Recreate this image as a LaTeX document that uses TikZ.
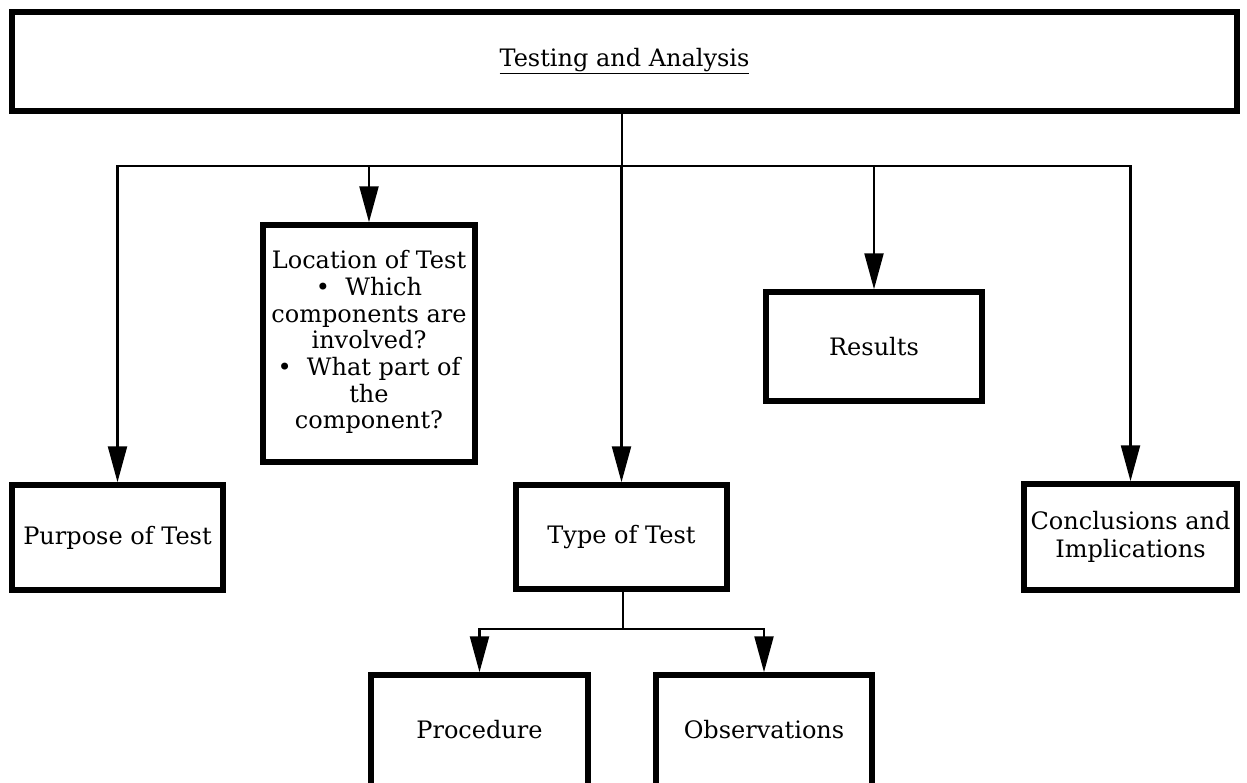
\documentclass[tikz,border=0pt]{standalone}
\usepackage{fontspec}
\setmainfont{DejaVu Serif}
\usetikzlibrary{arrows.meta}
\begin{document}
\begin{tikzpicture}[x=1pt,y=-1pt,
  box/.style={draw, line width=5.5pt, inner sep=0pt, align=center,
    font=\fontsize{24}{26.7}\selectfont},
  link/.style={line width=2.3pt},
  feed/.style={link, -{Triangle[length=36pt,width=19pt]}}]
\useasboundingbox (0,0) rectangle (1247,782);

% boxes
\node[box, minimum width=1225pt, minimum height=99pt] (top) at (624.5,61.5)
  {\underline{Testing and Analysis}};
\node[box, minimum width=211pt, minimum height=105pt] (purpose) at (117.5,537.5)
  {Purpose of Test};
\node[box, minimum width=212pt, minimum height=237pt] (location) at (369,343.5)
  {\raisebox{4pt}{\begin{tabular}{@{}c@{}}Location of Test\\ •\ \ Which\\ components are\\ involved?\\ •\ \ What part of\\ the\\ component?\end{tabular}}};
\node[box, minimum width=211pt, minimum height=104pt] (type) at (621.5,537)
  {Type of Test};
\node[box, minimum width=216pt, minimum height=109pt] (results) at (874,346.5)
  {Results};
\node[box, minimum width=213pt, minimum height=106pt] (concl) at (1130.5,537)
  {Conclusions and\\[1pt] Implications};
\node[box, minimum width=217pt, minimum height=114pt] (proc) at (479.5,732)
  {\raisebox{5pt}{Procedure}};
\node[box, minimum width=216pt, minimum height=114pt] (obs) at (764,732)
  {\raisebox{5pt}{Observations}};

% main distribution bus
\coordinate (bus) at (622,166);
\coordinate (sub) at (623,629);
\draw[link] (top.south -| bus) -- (bus);
\draw[link, line cap=rect] (purpose.north |- bus) -- (concl.north |- bus);
\draw[feed] (purpose.north |- bus) -- (purpose.north);
\draw[feed] (location.north |- bus) -- (location.north);
\draw[feed] (type.north |- bus) -- (type.north);
\draw[feed] (results.north |- bus) -- (results.north);
\draw[feed] (concl.north |- bus) -- (concl.north);

% branch under the type of test
\draw[link] (type.south -| sub) -- (sub);
\draw[link, line cap=rect] (proc.north |- sub) -- (obs.north |- sub);
\draw[feed] (proc.north |- sub) -- (proc.north);
\draw[feed] (obs.north |- sub) -- (obs.north);
\end{tikzpicture}
\end{document}
